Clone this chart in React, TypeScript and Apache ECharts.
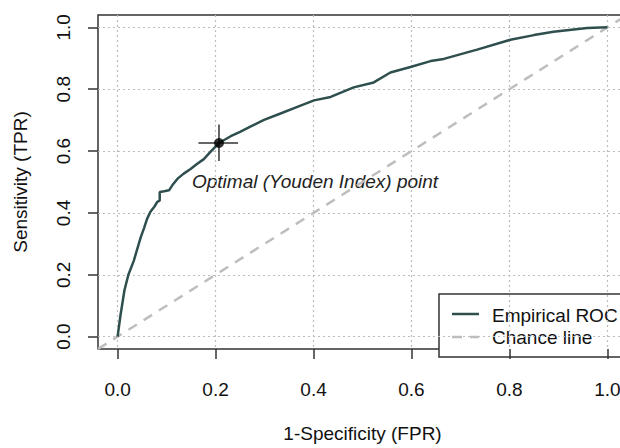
import React, { useEffect, useRef } from "react";
import * as echarts from "echarts";

const tickValues = [0, 0.2, 0.4, 0.6, 0.8, 1.0];
const axisLimits = [-0.04, 1.04];
const rocFpr = [0, 0.006, 0.014, 0.022, 0.033, 0.047, 0.054, 0.06, 0.067, 0.075, 0.081, 0.086, 0.086, 0.095, 0.105, 0.112, 0.122, 0.135, 0.149, 0.162, 0.176, 0.19, 0.207, 0.231, 0.25, 0.271, 0.299, 0.33, 0.367, 0.401, 0.435, 0.482, 0.523, 0.557, 0.598, 0.639, 0.666, 0.734, 0.802, 0.85, 0.89, 0.959, 1];
const rocTpr = [0, 0.07, 0.15, 0.2, 0.245, 0.32, 0.351, 0.38, 0.404, 0.42, 0.436, 0.44, 0.468, 0.47, 0.473, 0.49, 0.51, 0.527, 0.542, 0.558, 0.574, 0.598, 0.626, 0.648, 0.662, 0.679, 0.701, 0.72, 0.743, 0.764, 0.775, 0.806, 0.822, 0.854, 0.872, 0.891, 0.898, 0.928, 0.96, 0.975, 0.986, 0.998, 1];
const optimalPoint = [0.207, 0.626];
const optimalCiX = [0.165, 0.246];
const optimalCiY = [0.568, 0.686];
const annotation = "Optimal (Youden Index) point";
const legendNames = ["Empirical ROC", "Chance line"];

const FONT = '"Liberation Sans", Arial, sans-serif';
const FS = 19;
const ROC_COLOR = "#2f4f4f";
const CHANCE_COLOR = "#bebebe";

export default function App() {
  const ref = useRef<HTMLDivElement>(null);
  useEffect(() => {
    if (!ref.current) return;
    const chart = echarts.init(ref.current, undefined, { renderer: "svg" });
    const rocData = rocFpr.map((x, i) => [x, rocTpr[i]]);
    const axisCommon = {
      type: "value",
      min: axisLimits[0],
      max: axisLimits[1],
      nameLocation: "middle",
      nameTextStyle: { fontFamily: FONT, fontSize: FS, color: "#111" },
      axisLine: { show: false, onZero: false },
      axisTick: { show: true, length: 10, customValues: tickValues, lineStyle: { color: "#333", width: 1.5 } },
      axisLabel: { customValues: tickValues, fontFamily: FONT, fontSize: FS, color: "#111", formatter: (v: number) => v.toFixed(1) },
      splitLine: { show: true, lineStyle: { color: "#bdbdbd", type: [2, 3], width: 1.2 } },
    };
    chart.setOption({
      animation: false,
      backgroundColor: "#fff",
      grid: { left: 98, top: 15, right: 3, bottom: 91, show: true, borderColor: "#333", borderWidth: 1.5, backgroundColor: "transparent" },
      xAxis: { ...axisCommon, name: "1-Specificity (FPR)", nameGap: 75, axisLabel: { ...axisCommon.axisLabel, margin: 31 } },
      yAxis: { ...axisCommon, name: "Sensitivity (TPR)", nameGap: 68, axisLabel: { ...axisCommon.axisLabel, rotate: 90, margin: 25 } },
      series: [
        {
          name: legendNames[1], type: "line", symbol: "none", silent: true,
          data: [[axisLimits[0], axisLimits[0]], [axisLimits[1], axisLimits[1]]],
          lineStyle: { color: CHANCE_COLOR, width: 2.5, type: [10, 8] },
        },
        {
          name: legendNames[0], type: "line", symbol: "none", silent: true,
          data: rocData,
          lineStyle: { color: ROC_COLOR, width: 2.5 },
        },
        {
          type: "line", symbol: "none", silent: true,
          data: [[optimalCiX[0], optimalPoint[1]], [optimalCiX[1], optimalPoint[1]]],
          lineStyle: { color: "#333", width: 1.5 },
        },
        {
          type: "line", symbol: "none", silent: true,
          data: [[optimalPoint[0], optimalCiY[0]], [optimalPoint[0], optimalCiY[1]]],
          lineStyle: { color: "#333", width: 1.5 },
        },
        {
          type: "scatter", silent: true, symbolSize: 10,
          data: [optimalPoint],
          itemStyle: { color: "#000" },
          z: 5,
        },
      ],
      graphic: [
        { type: "text", style: { x: 192, y: 181, text: annotation, font: `italic ${FS}px ${FONT}`, fill: "#222", verticalAlign: "middle" } },
        { type: "rect", shape: { x: 439, y: 294, width: 200, height: 63 }, style: { fill: "#fff", stroke: "#333", lineWidth: 1.5 } },
        { type: "line", shape: { x1: 452, y1: 314, x2: 479, y2: 314 }, style: { stroke: ROC_COLOR, lineWidth: 2.5 } },
        { type: "line", shape: { x1: 452, y1: 337, x2: 479, y2: 337 }, style: { stroke: CHANCE_COLOR, lineWidth: 2.5, lineDash: [10, 8] } },
        { type: "text", style: { x: 492, y: 315, text: legendNames[0], font: `${FS}px ${FONT}`, fill: "#111", verticalAlign: "middle" } },
        { type: "text", style: { x: 492, y: 337, text: legendNames[1], font: `${FS}px ${FONT}`, fill: "#111", verticalAlign: "middle" } },
      ],
    });
    return () => chart.dispose();
  }, []);
  return (
    <div style={{ width: 620, height: 448, position: "fixed", left: 0, top: 0, overflow: "hidden", background: "#fff" }}>
      <div ref={ref} style={{ width: 630, height: 448 }} />
    </div>
  );
}
